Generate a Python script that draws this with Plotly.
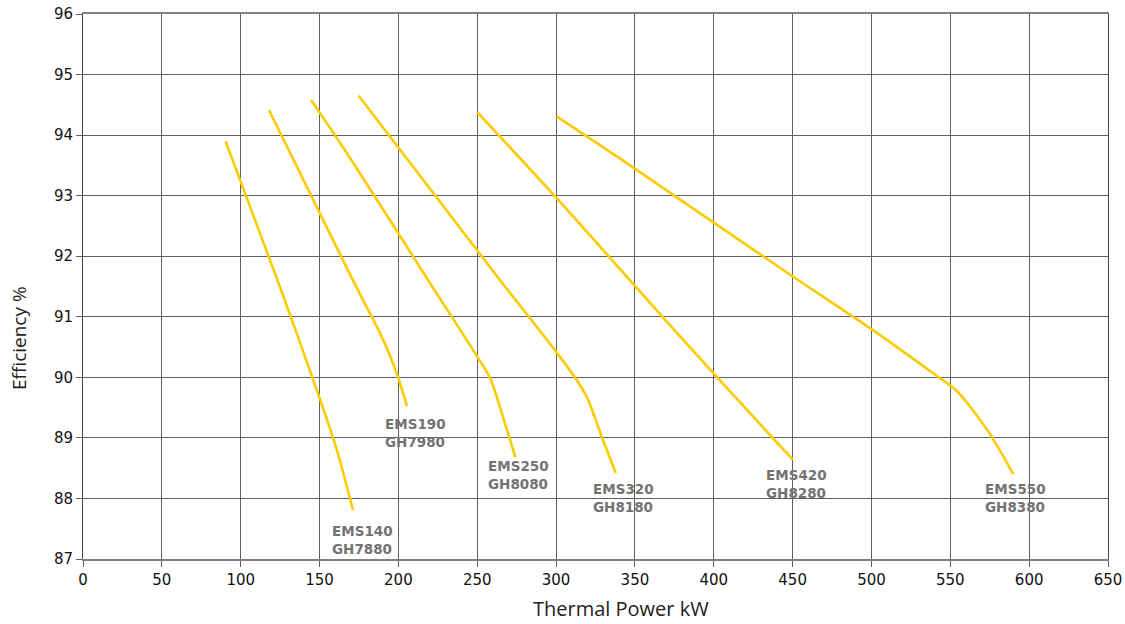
import plotly.graph_objects as go

# curvas de eficiencia por modelo (kW, %)
models = ["EMS140<br>GH7880", "EMS190<br>GH7980", "EMS250<br>GH8080",
          "EMS320<br>GH8180", "EMS420<br>GH8280", "EMS550<br>GH8380"]

ems140_x = [90.4, 123.4, 149.9, 161.0, 171.2]
ems140_y = [93.90, 91.60, 89.67, 88.80, 87.81]

ems190_x = [118.0, 171.2, 188.0, 194.5, 199.8, 205.5]
ems190_y = [94.41, 91.60, 90.75, 90.37, 90.0, 89.52]

ems250_x = [144.6, 166.9, 219.0, 250.8, 258.3, 266.5, 274.2]
ems250_y = [94.58, 93.72, 91.60, 90.31, 89.98, 89.33, 88.68]

ems320_x = [174.8, 264.6, 300.1, 314.0, 320.5, 325.2, 329.4, 337.9]
ems320_y = [94.65, 91.60, 90.42, 89.92, 89.62, 89.29, 88.99, 88.42]

ems420_x = [250.0, 300.0, 350.0, 400.0, 450.2]
ems420_y = [94.38, 92.97, 91.51, 90.06, 88.64]

ems550_x = [300.3, 339.0, 400.2, 449.9, 502.5, 540.0, 553.5, 573.7, 590.0]
ems550_y = [94.31, 93.64, 92.55, 91.67, 90.75, 90.05, 89.79, 89.12, 88.40]

xs = [ems140_x, ems190_x, ems250_x, ems320_x, ems420_x, ems550_x]
ys = [ems140_y, ems190_y, ems250_y, ems320_y, ems420_y, ems550_y]

x_ticks = list(range(0, 651, 50))
y_ticks = list(range(87, 97))

# deslocamento (px) do rotulo em relacao ao fim da curva
label_dx = [-23, -24, -29, -25, -29, -30]
label_dy = [-30, -27, -18, -25, -24, -24]

W, H = 1125, 624
L, T, R, B = 83, 14, 17, 65
plot_w = W - L - R
plot_h = H - T - B

fig = go.Figure()

for x, y in zip(xs, ys):
    fig.add_trace(go.Scatter(
        x=x, y=y, mode="lines",
        line=dict(color="#FCCB00", width=2.6, shape="spline", smoothing=0.8),
        hoverinfo="skip", showlegend=False,
    ))

for name, x, y, dx, dy in zip(models, xs, ys, label_dx, label_dy):
    fig.add_annotation(
        x=x[-1], y=y[-1], text="<b>" + name.replace("<br>", "</b><br><b>") + "</b>",
        showarrow=False, xanchor="left", yanchor="middle", align="left",
        xshift=dx, yshift=dy,
        font=dict(family="DejaVu Sans", size=13.5, color="#737373"),
    )

# titulos dos eixos como anotacoes (posicao em px relativa a area do grafico)
fig.add_annotation(
    xref="paper", yref="paper", x=538 / plot_w, y=-50 / plot_h,
    xanchor="center", yanchor="middle", text="Thermal Power kW",
    showarrow=False, font=dict(family="Open Sans", size=20, color="#222"),
)
fig.add_annotation(
    xref="paper", yref="paper", x=-64 / plot_w, y=221 / plot_h,
    xanchor="center", yanchor="middle", text="Efficiency %", textangle=-90,
    showarrow=False, font=dict(family="Open Sans", size=19, color="#222"),
)

fig.update_layout(
    width=W, height=H,
    margin=dict(l=L, r=R, t=T, b=B),
    paper_bgcolor="white", plot_bgcolor="white",
    font=dict(family="DejaVu Sans", color="#111"),
)

fig.update_xaxes(
    range=[0, 650], tickvals=x_ticks, ticktext=[str(v) for v in x_ticks],
    showgrid=True, gridcolor="#5f5f5f", gridwidth=1,
    showline=True, linecolor="#808080", linewidth=2, mirror=True,
    ticks="outside", ticklen=6, tickcolor="#5f5f5f",
    tickfont=dict(size=15, color="#111"),
    zeroline=False, automargin=False,
)

fig.update_yaxes(
    range=[87, 96], tickvals=y_ticks, ticktext=[str(v) for v in y_ticks],
    showgrid=True, gridcolor="#5f5f5f", gridwidth=1,
    showline=True, linecolor="#444", linewidth=1, mirror=True,
    ticks="outside", ticklen=6, tickcolor="#5f5f5f",
    tickfont=dict(size=15, color="#111"),
    zeroline=False, automargin=False,
)

# tira a margem padrao do body para a figura ocupar a janela inteira
fig.write_html("out.html", config={"displayModeBar": False},
               post_script="document.body.style.margin='0';")
